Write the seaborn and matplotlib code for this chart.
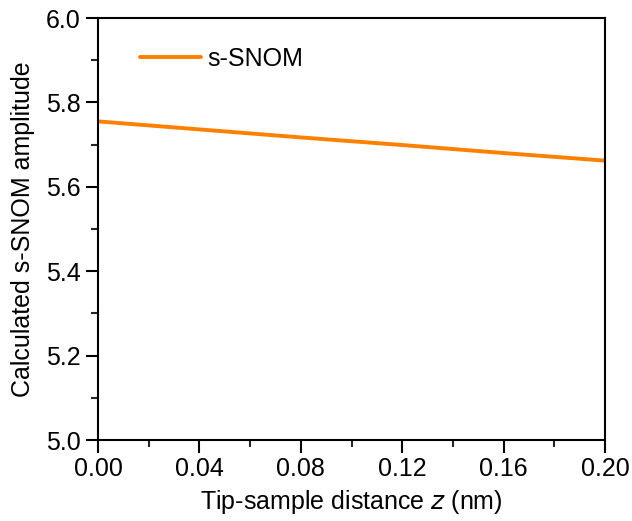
import matplotlib
matplotlib.use("Agg")
import matplotlib.pyplot as plt
import pandas as pd
import seaborn as sns
from matplotlib.ticker import MultipleLocator

# values
distance_nm = [0.00, 0.04, 0.08, 0.12, 0.16, 0.20]
amplitude = [5.755, 5.736, 5.717, 5.699, 5.680, 5.662]

df = pd.DataFrame({"z": distance_nm, "amp": amplitude})

sns.set_theme(style="ticks")
plt.rcParams["font.family"] = ["Liberation Sans", "DejaVu Sans"]
plt.rcParams["text.color"] = "black"
plt.rcParams["axes.labelcolor"] = "black"

fig = plt.figure(figsize=(6.32, 5.21), dpi=100)
ax = fig.add_axes([98 / 632, (521 - 440) / 521, (605 - 98) / 632, (440 - 18) / 521])

sns.lineplot(data=df, x="z", y="amp", color="#FF8000", linewidth=2.8, label="s-SNOM", ax=ax)

ax.set_xlim(0, 0.2)
ax.set_ylim(5.0, 6.0)
ax.xaxis.set_major_locator(MultipleLocator(0.04))
ax.xaxis.set_minor_locator(MultipleLocator(0.02))
ax.yaxis.set_major_locator(MultipleLocator(0.2))
ax.yaxis.set_minor_locator(MultipleLocator(0.1))
ax.xaxis.set_major_formatter(plt.FormatStrFormatter("%.2f"))
ax.yaxis.set_major_formatter(plt.FormatStrFormatter("%.1f"))

for side in ["top", "right", "left", "bottom"]:
    ax.spines[side].set_visible(True)
    ax.spines[side].set_linewidth(1.5)
    ax.spines[side].set_color("black")

ax.tick_params(which="major", direction="out", length=9, width=1.5, labelsize=18,
               colors="black", labelcolor="black")
ax.tick_params(which="minor", direction="out", length=5, width=1.5)
ax.tick_params(top=False, right=False, which="both")

ax.set_xlabel("Tip-sample distance $\\it{z}$ (nm)", fontsize=18, labelpad=5)
ax.set_ylabel("Calculated s-SNOM amplitude", fontsize=18, labelpad=8)

leg = ax.legend(loc="upper left", bbox_to_anchor=(0.038, 0.985), frameon=False, fontsize=18,
                handlelength=2.44, handletextpad=0.28)
for t in leg.get_texts():
    t.set_color("black")

fig.savefig("out.png", dpi=100)
